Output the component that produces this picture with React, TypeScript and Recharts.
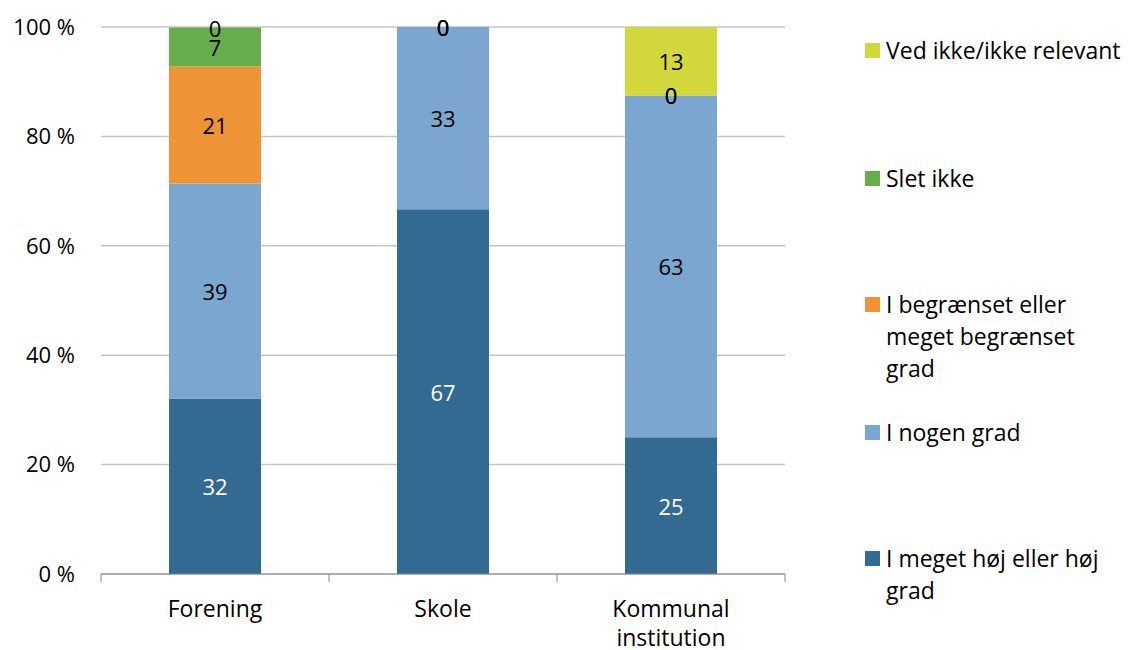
import { ComposedChart, Bar, Line, XAxis, YAxis, CartesianGrid, LabelList } from "recharts";

const categories = ["Forening", "Skole", "Kommunal institution"];
const hoej = [32.1, 66.7, 25];
const nogen = [39.3, 33.3, 62.5];
const begraenset = [21.4, 0, 0];
const sletIkke = [7.1, 0, 0];
const vedIkke = [0, 0, 12.5];
const yTicks = [0, 20, 40, 60, 80, 100];

const series = [
  { key: "hoej", name: "I meget høj eller høj grad", values: hoej, color: "#336a92", label: "#fff" },
  { key: "nogen", name: "I nogen grad", values: nogen, color: "#7aa6cf", label: "#000" },
  { key: "begraenset", name: "I begrænset eller meget begrænset grad", values: begraenset, color: "#ee9336", label: "#000" },
  { key: "slet", name: "Slet ikke", values: sletIkke, color: "#68ad4c", label: "#000" },
  { key: "ved", name: "Ved ikke/ikke relevant", values: vedIkke, color: "#d2d83c", label: "#000" },
];

// rows: raw values plus the middle of each stacked segment (label anchor)
const data = categories.map((c, i) => {
  const row: any = { name: c };
  let base = 0;
  series.forEach((s) => {
    row[s.key] = s.values[i];
    row[s.key + "_mid"] = base + s.values[i] / 2;
    base += s.values[i];
  });
  return row;
});

const FONT = "'Open Sans', sans-serif";
const BAND = 684 / categories.length;

const XTick = (props: any) => {
  const { x, y, payload, index } = props;
  const words = String(payload.value).split(" ");
  return (
    <g>
      <line x1={x - BAND / 2} x2={x - BAND / 2} y1={y - 8} y2={y} stroke="#888" />
      {index === categories.length - 1 && (
        <line x1={x + BAND / 2} x2={x + BAND / 2} y1={y - 8} y2={y} stroke="#888" />
      )}
      <text x={x} y={y} textAnchor="middle" fontSize={23} fill="#000" fontFamily={FONT}>
        {words.map((l: string, i: number) => (
          <tspan key={i} x={x} dy={i === 0 ? 35 : 29}>{l}</tspan>
        ))}
      </text>
    </g>
  );
};

const SegLabel = (s: any) => (props: any) => {
  const { x, y, index } = props;
  const v = s.values[index];
  if (v === undefined) return null;
  return (
    <text x={x} y={y} textAnchor="middle" dominantBaseline="central" fontSize={22} fill={s.label} fontFamily={FONT}>
      {Math.round(v)}
    </text>
  );
};

// legend rows (first line centre), order top to bottom
const legendTops = [50, 178, 304, 432, 558];
const legendLines: Record<string, string[]> = {
  ved: ["Ved ikke/ikke relevant"],
  slet: ["Slet ikke"],
  begraenset: ["I begrænset eller", "meget begrænset", "grad"],
  nogen: ["I nogen grad"],
  hoej: ["I meget høj eller høj", "grad"],
};

export default function App() {
  const legendSeries = [...series].reverse();
  return (
    <div style={{ position: "absolute", left: 0, top: 0, width: 1130, height: 650, background: "#fff", fontFamily: FONT }}>
      <ComposedChart width={800} height={650} data={data} margin={{ top: 27, right: 15, bottom: 0, left: 0 }} barSize={92}>
        <CartesianGrid vertical={false} stroke="#c6c6c6" strokeWidth={1.5} />
        <XAxis dataKey="name" axisLine={{ stroke: "#888" }} tickLine={false} height={76} tick={<XTick />} interval={0} />
        <YAxis
          domain={[0, 100]}
          ticks={yTicks}
          tickFormatter={(v: number) => `${v} %`}
          axisLine={false}
          tickLine={false}
          width={101}
          tickMargin={20}
          tick={{ fontSize: 22, fill: "#000", fontFamily: FONT }}
        />
        {series.map((s) => (
          <Bar key={s.key} dataKey={s.key} stackId="a" fill={s.color} isAnimationActive={false} />
        ))}
        {series.map((s) => (
          <Line
            key={s.key + "_lbl"}
            dataKey={s.key + "_mid"}
            stroke="none"
            dot={false}
            activeDot={false}
            isAnimationActive={false}
          >
            <LabelList dataKey={s.key + "_mid"} content={SegLabel(s)} />
          </Line>
        ))}
      </ComposedChart>
      {legendSeries.map((s, i) => (
        <div key={s.key} style={{ position: "absolute", left: 865, top: legendTops[i] - 16, display: "flex", alignItems: "flex-start" }}>
          <div style={{ width: 15, height: 15, background: s.color, marginTop: 9, marginRight: 6 }} />
          <div style={{ fontSize: 23, lineHeight: "32px", color: "#000", whiteSpace: "nowrap" }}>
            {legendLines[s.key].map((l, j) => (
              <div key={j}>{l}</div>
            ))}
          </div>
        </div>
      ))}
    </div>
  );
}
